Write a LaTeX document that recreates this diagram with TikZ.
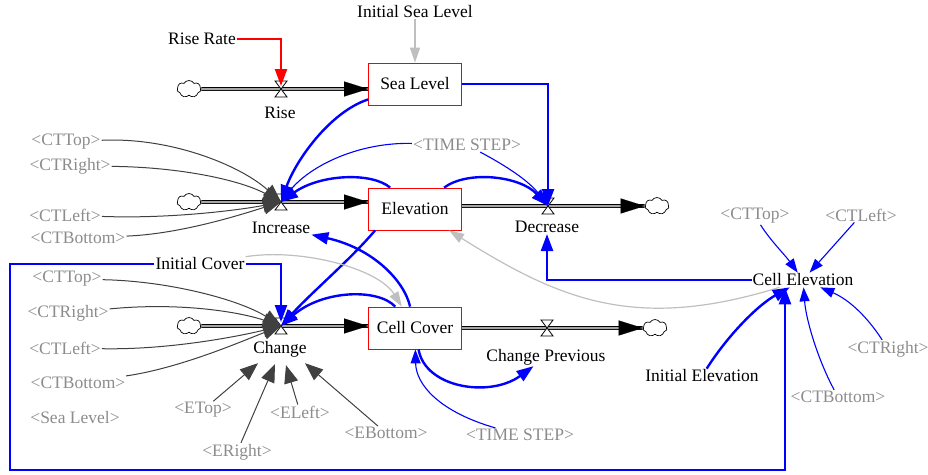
\documentclass[tikz,border=0pt]{standalone}
\usepackage{fontspec}
\setmainfont{Liberation Serif}
\usetikzlibrary{arrows.meta,calc,shapes.symbols}

\begin{document}
\begin{tikzpicture}[x=1pt,y=-1pt,font=\fontsize{17.5}{20}\selectfont,
    stock/.style={draw=red,fill=white,line width=0.8pt,minimum width=93pt,minimum height=42pt,inner sep=0pt},
    lbl/.style={inner sep=1pt},
    shadowvar/.style={inner sep=1pt,text=black!45},
    cloudy/.style={cloud,cloud puffs=7,cloud puff arc=120,aspect=1.4,draw,fill=white,line width=0.7pt,minimum width=24pt,minimum height=17pt,inner sep=0pt},
    pipe/.style={draw=black,double=black!35,double distance=2pt,line width=0.8pt},
    pipetip/.style={line width=0.1pt,-{Triangle[length=24pt,width=15pt]}},
    valve/.pic={\draw[fill=white,line width=0.8pt] (-6,-8) -- (6,-8) -- (-6,8) -- (6,8) -- cycle;},
    infl/.style={blue,line width=2.4pt,-{Triangle[length=17pt,width=12pt]}},
    thininfl/.style={blue,line width=1.1pt,-{Triangle[length=14pt,width=10pt]}},
    dark/.style={black!75,line width=1pt,-{Triangle[length=18pt,width=14pt]}},
    ini/.style={black!25,line width=1.2pt,-{Triangle[length=15pt,width=10pt]}}]
    \useasboundingbox (0,0) rectangle (928,474);
    % stocks and clouds
    \node[stock] (sea) at (415,84) {Sea Level};
    \node[stock] (elev) at (415,209) {Elevation};
    \node[stock] (cover) at (415,328) {Cell Cover};
    \node[cloudy] (cInc) at (189,202) {};
    \node[cloudy] (cRise) at (189,89) {};
    \node[cloudy] (cChg) at (189,326) {};
    \node[cloudy] (cDec) at (657,206) {};
    \node[cloudy] (cPrev) at (655,328) {};
    \coordinate (vRise) at (281,89);
    \coordinate (vInc) at (281,202);
    \coordinate (vChg) at (281,326);
    \coordinate (vDec) at (548,206);
    \coordinate (vPrev) at (547,328);
    % variables
    \node[lbl] (iniSea) at (415,12) {Initial Sea Level};
    \node[lbl] (riseRate) at (202,39) {Rise Rate};
    \node[lbl] (rise) at (280,113) {Rise};
    \node[lbl] (inc) at (281,228) {Increase};
    \node[lbl] (dec) at (547,227) {Decrease};
    \node[lbl] (chg) at (280,349) {Change};
    \node[lbl] (prev) at (546,357) {Change Previous};
    \node[lbl] (iniCover) at (200,264) {Initial Cover};
    \node[lbl] (cellElev) at (803,280) {Cell Elevation};
    \node[lbl] (iniElev) at (702,376) {Initial Elevation};
    \node[shadowvar] (tsA) at (467,145) {\textless TIME STEP\textgreater};
    \node[shadowvar] (tsB) at (520,435) {\textless TIME STEP\textgreater};
    \node[shadowvar] (ctTopA) at (66,142) {\textless CTTop\textgreater};
    \node[shadowvar] (ctRightA) at (70,166) {\textless CTRight\textgreater};
    \node[shadowvar] (ctLeftA) at (65,215) {\textless CTLeft\textgreater};
    \node[shadowvar] (ctBotA) at (78,238) {\textless CTBottom\textgreater};
    \node[shadowvar] (ctTopB) at (67,279) {\textless CTTop\textgreater};
    \node[shadowvar] (ctRightB) at (68,313) {\textless CTRight\textgreater};
    \node[shadowvar] (ctLeftB) at (65,348) {\textless CTLeft\textgreater};
    \node[shadowvar] (ctBotB) at (78,383) {\textless CTBottom\textgreater};
    \node[shadowvar] (seaSh) at (75,418) {\textless Sea Level\textgreater};
    \node[shadowvar] (eTop) at (203,410) {\textless ETop\textgreater};
    \node[shadowvar] (eRight) at (237,452) {\textless ERight\textgreater};
    \node[shadowvar] (eLeft) at (300,412) {\textless ELeft\textgreater};
    \node[shadowvar] (eBot) at (386,433) {\textless EBottom\textgreater};
    \node[shadowvar] (ctTopC) at (755,216) {\textless CTTop\textgreater};
    \node[shadowvar] (ctLeftC) at (861,215) {\textless CTLeft\textgreater};
    \node[shadowvar] (ctRightC) at (888,349) {\textless CTRight\textgreater};
    \node[shadowvar] (ctBotC) at (838,397) {\textless CTBottom\textgreater};
    % pipes
    \draw[pipe] (cRise.east) -- (sea.west |- vRise);
    \draw[pipe] (cInc.east) -- (elev.west |- vInc);
    \draw[pipe] (cChg.east) -- (cover.west |- vChg);
    \draw[pipe] (elev.east |- vDec) -- (cDec.west);
    \draw[pipe] (cover.east |- vPrev) -- (cPrev.west);
    \draw[pipetip] ($(sea.west |- vRise)+(-5,0)$) -- (sea.west |- vRise);
    \draw[pipetip] ($(elev.west |- vInc)+(-5,0)$) -- (elev.west |- vInc);
    \draw[pipetip] ($(cover.west |- vChg)+(-5,0)$) -- (cover.west |- vChg);
    \draw[pipetip] ($(cDec.west)+(-5,0)$) -- (cDec.west);
    \draw[pipetip] ($(cPrev.west)+(-5,0)$) -- (cPrev.west);
    \foreach \v in {vRise,vInc,vChg,vDec,vPrev}
        \pic at (\v) {valve};
    % links
    \draw[ini] (iniSea) -- (sea);
    \draw[red,line width=2.4pt,-{Triangle[length=17pt,width=12pt]},shorten >=3pt] (riseRate) -| (vRise);
    \draw[infl] (sea.east) -| (vDec);
    \draw[infl] (sea) .. controls (330,112) and (296,160) .. (vInc);
    \draw[thininfl] (tsA) .. controls (360,142) and (310,165) .. (vInc);
    \draw[infl] (elev) .. controls (372,172) and (320,174) .. (vInc);
    \draw[infl] (elev) .. controls (468,170) and (520,176) .. (vDec);
    \draw[thininfl] (tsA) .. controls (510,168) and (530,182) .. (vDec);
    \draw[infl] (cellElev) -| (dec);
    \draw[ini] (cellElev) .. controls (636,332) and (560,300) .. (elev);
    \draw[infl] ([xshift=7pt]elev.south west) .. controls (350,260) and (312,292) .. (vChg);
    \draw[infl] (cover) .. controls (404,280) and (372,248) .. (inc);
    \draw[infl] (cover) .. controls (378,288) and (322,290) .. (vChg);
    \draw[infl] (cover) .. controls (425,388) and (490,398) .. (prev);
    \draw[thininfl] (tsB) .. controls (440,412) and (416,385) .. (cover);
    \draw[ini] (iniCover) .. controls (300,248) and (378,268) .. (cover);
    \draw[infl,shorten >=4pt] (iniCover) -| (vChg);
    \draw[infl] (iniCover.west) -| (10,470) -| ([xshift=-18pt]cellElev.south);
    \draw[thininfl] (ctTopC) .. controls (770,240) and (785,255) .. (cellElev);
    \draw[thininfl] (ctLeftC) -- (cellElev);
    \draw[infl] (iniElev) .. controls (728,335) and (758,305) .. (cellElev);
    \draw[thininfl] (ctBotC) .. controls (818,360) and (806,320) .. (cellElev);
    \draw[thininfl] (ctRightC) .. controls (868,318) and (850,300) .. (cellElev);
    % shadow links
    \draw[dark] (ctTopA) .. controls (170,137) and (240,165) .. (vInc);
    \draw[dark] (ctRightA) .. controls (180,167) and (240,180) .. (vInc);
    \draw[dark] (ctLeftA) .. controls (170,219) and (240,210) .. (vInc);
    \draw[dark] (ctBotA) .. controls (180,234) and (240,215) .. (vInc);
    \draw[dark] (ctTopB) .. controls (170,281) and (240,300) .. (vChg);
    \draw[dark] (ctRightB) .. controls (180,302) and (240,312) .. (vChg);
    \draw[dark] (ctLeftB) .. controls (170,350) and (240,336) .. (vChg);
    \draw[dark] (ctBotB) .. controls (180,368) and (240,342) .. (vChg);
    \draw[dark] (eTop) -- ([shift={(-22,5)}]chg.south);
    \draw[dark] (eRight) -- ([shift={(-5,6)}]chg.south);
    \draw[dark] (eLeft) -- ([shift={(6,7)}]chg.south);
    \draw[dark] (eBot) -- ([shift={(25,5)}]chg.south);
\end{tikzpicture}
\end{document}
